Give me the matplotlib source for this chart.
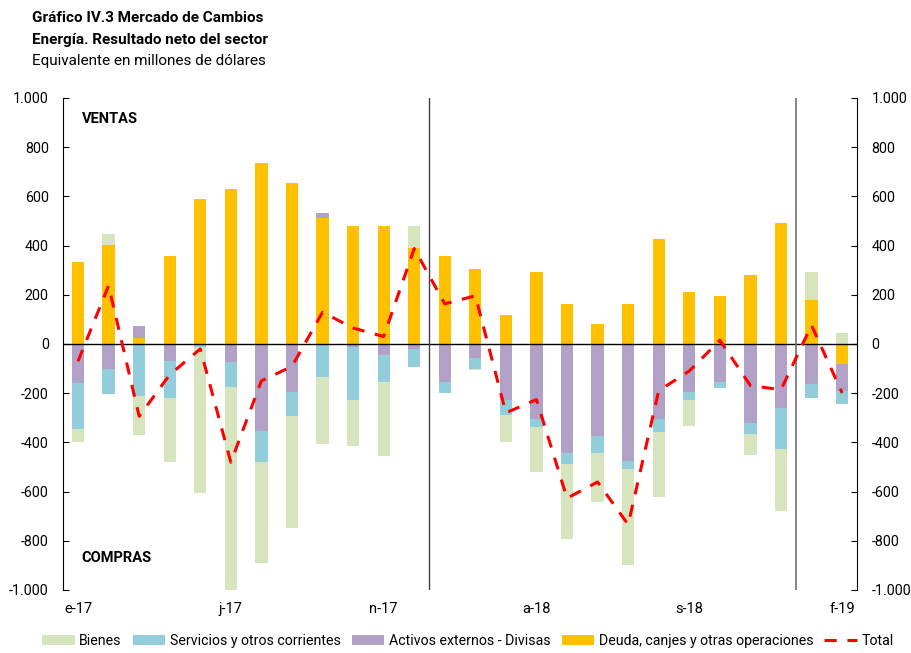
import matplotlib
matplotlib.use('Agg')
import matplotlib.pyplot as plt
from matplotlib.ticker import FuncFormatter
import numpy as np

plt.rcParams['font.family'] = ['Roboto', 'DejaVu Sans']

# Data (millions of USD), Jan-17 .. Feb-19
months = ['e-17', 'f-17', 'm-17', 'a-17', 'm-17', 'j-17', 'j-17', 'a-17', 's-17', 'o-17', 'n-17', 'd-17',
          'e-18', 'f-18', 'm-18', 'a-18', 'm-18', 'j-18', 'j-18', 'a-18', 's-18', 'o-18', 'n-18', 'd-18',
          'e-19', 'f-19']
bienes = [-56, 45, -159, -263, -594, -937, -412, -455, -272, -190, -301, 88,
          -3, -7, -113, -180, -307, -202, -389, -265, -106, 0, -84, -253,
          114, 45]
servicios = [-187, -101, -210, -150, -12, -101, -128, -99, -133, -212, -107, -76,
             -44, -44, -61, -35, -43, -68, -34, -51, -32, -27, -46, -166,
             -58, -54]
activos = [-157, -102, 51, -68, 0, -72, -352, -195, 22, -14, -46, -19,
           -154, -56, -226, -304, -443, -374, -474, -305, -194, -154, -320, -259,
           -163, -110]
deuda = [333, 404, 24, 356, 591, 629, 737, 653, 512, 481, 480, 392,
         359, 305, 118, 293, 163, 81, 161, 425, 213, 194, 280, 491,
         180, -80]
total = [-70, 237, -294, -125, -20, -481, -150, -91, 129, 65, 30, 388,
         163, 196, -280, -226, -627, -561, -734, -190, -110, 15, -169, -186,
         76, -199]

tick_pos = [0, 5, 10, 15, 20, 25]
tick_labels = ['e-17', 'j-17', 'n-17', 'a-18', 's-18', 'f-19']

fig = plt.figure(figsize=(9.12, 6.53), dpi=100)
ax = fig.add_axes([0.0688, 0.0965, 0.8713, 0.7535])

x = np.arange(len(months))
series = [
    ('Deuda, canjes y otras operaciones', deuda, '#FFC000'),
    ('Activos externos - Divisas', activos, '#B2A1C7'),
    ('Servicios y otros corrientes', servicios, '#92CDDC'),
    ('Bienes', bienes, '#D7E4BD'),
]
pos_base = np.zeros(len(x))
neg_base = np.zeros(len(x))
handles = {}
for name, vals, col in series:
    v = np.array(vals, dtype=float)
    base = np.where(v >= 0, pos_base, neg_base)
    b = ax.bar(x, v, 0.4, bottom=base, color=col, edgecolor='none', zorder=2)
    handles[name] = b
    pos_base = pos_base + np.where(v > 0, v, 0)
    neg_base = neg_base + np.where(v < 0, v, 0)

line, = ax.plot(x, total, color='#FF0000', lw=2.2, dashes=(4, 3.5), zorder=4)

ax.axhline(0, color='black', lw=1, zorder=3)
ax.axvline(11.5, color='#404040', lw=1, zorder=3)
ax.axvline(23.5, color='#707070', lw=1.2, zorder=3)

ax.set_xlim(-0.5, 25.5)
ax.set_ylim(-1000, 1000)
ax.set_yticks(np.arange(-1000, 1001, 200))
fmt = FuncFormatter(lambda v, p: f'{int(v):,}'.replace(',', '.'))
ax.yaxis.set_major_formatter(fmt)
ax.tick_params(axis='y', direction='in', length=4, labelsize=10.3, left=True, right=True,
               labelleft=True, labelright=True, pad=10)
ax.set_xticks(tick_pos)
ax.set_xticklabels(tick_labels, fontsize=10.5)
ax.tick_params(axis='x', length=0, pad=9)
for s in ['top', 'bottom']:
    ax.spines[s].set_visible(False)

ax.text(0.024, 0.958, 'VENTAS', transform=ax.transAxes, fontsize=10.5, fontweight='bold', va='center')
ax.text(0.024, 0.064, 'COMPRAS', transform=ax.transAxes, fontsize=10.5, fontweight='bold', va='center')

fig.text(0.035, 0.972, 'Gráfico IV.3 Mercado de Cambios', fontsize=11, fontweight='bold', va='center')
fig.text(0.035, 0.938, 'Energía. Resultado neto del sector', fontsize=11, fontweight='bold', va='center')
fig.text(0.035, 0.907, 'Equivalente en millones de dólares', fontsize=11, va='center')

order = ['Bienes', 'Servicios y otros corrientes', 'Activos externos - Divisas',
         'Deuda, canjes y otras operaciones']
leg_h = [handles[n] for n in order] + [line]
leg_l = order + ['Total']
fig.legend(leg_h, leg_l, loc='lower center', bbox_to_anchor=(0.513, -0.012), ncol=5,
           frameon=False, fontsize=10.2, handlelength=2.3, handleheight=0.7,
           columnspacing=0.8, handletextpad=0.3)

fig.savefig('out.png', dpi=100)
